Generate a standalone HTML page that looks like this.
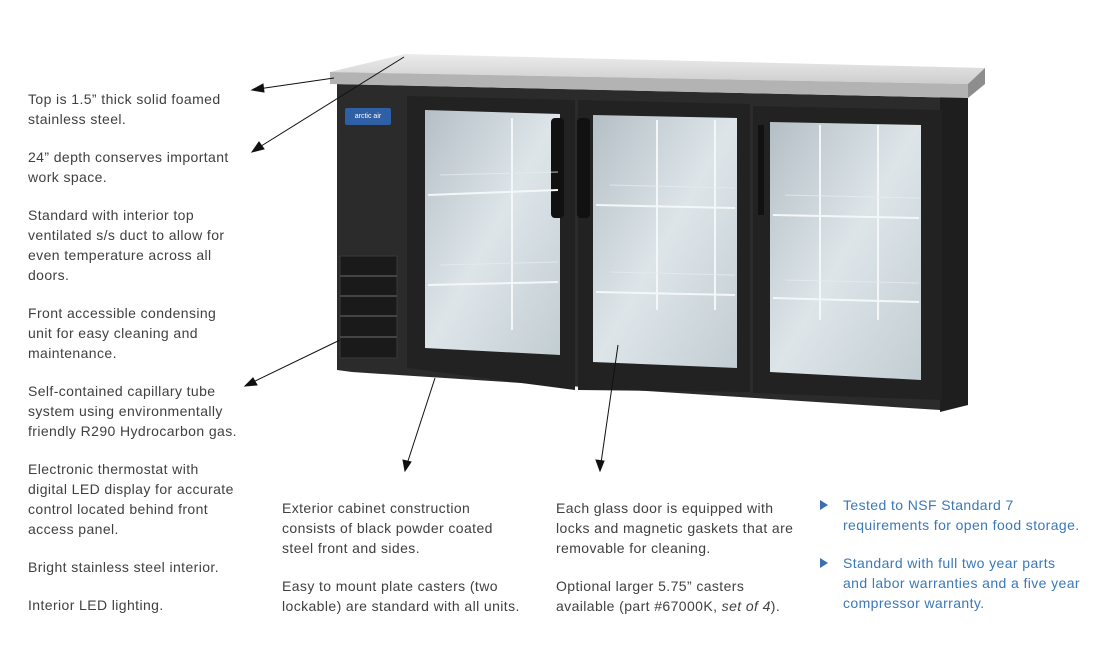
<!DOCTYPE html>
<html><head><meta charset="utf-8"><style>
body{margin:0;width:1117px;height:653px;background:#fff;position:relative;overflow:hidden;font-family:"Liberation Sans",sans-serif;}
.t{position:absolute;font-size:14px;line-height:20px;color:#404040;white-space:nowrap;letter-spacing:0.4px;}
.b{color:#3b78b8;}
.tri{position:absolute;width:0;height:0;border-top:5px solid transparent;border-bottom:5px solid transparent;border-left:8px solid #3b6fb0;}
svg{position:absolute;left:0;top:0;}
</style></head><body>
<svg width="1117" height="653" viewBox="0 0 1117 653">
<defs>
<linearGradient id="top" x1="0" y1="0" x2="0" y2="1"><stop offset="0" stop-color="#ececec"/><stop offset="1" stop-color="#cdcdcd"/></linearGradient>
<linearGradient id="gl" x1="0" y1="0" x2="1" y2="1"><stop offset="0" stop-color="#b4bfc5"/><stop offset="0.5" stop-color="#dde5e9"/><stop offset="1" stop-color="#c2cdd2"/></linearGradient>
</defs>
<polygon points="337,84 968,98 968,405 940,410 352,372 337,370" fill="#2b2b2b"/>
<polygon points="940,96 968,98 968,405 940,412" fill="#1e1e1e"/>
<polygon points="330,72 405,54 985,68 968,84" fill="url(#top)"/>
<polygon points="330,72 968,84 968,98 330,84" fill="#b3b3b3"/>
<polygon points="968,84 985,68 985,84 968,98" fill="#8d8d8d"/>
<rect x="345" y="108" width="46" height="17" rx="2" fill="#2f5fa5"/>
<text x="368" y="118" font-size="7" fill="#fff" text-anchor="middle" font-family="Liberation Sans">arctic air</text>
<g fill="#1a1a1a" stroke="#3a3a3a"><rect x="340" y="256" width="57" height="102"/></g>
<g stroke="#444" stroke-width="2"><line x1="340" y1="276" x2="397" y2="276"/><line x1="340" y1="296" x2="397" y2="296"/><line x1="340" y1="316" x2="397" y2="316"/><line x1="340" y1="337" x2="397" y2="337"/></g>
<polygon points="407,96 575,100 575,390 407,368" fill="#222"/>
<polygon points="425,110 560,114 560,355 425,348" fill="url(#gl)"/>
<polygon points="578,100 750,104 750,392 578,390" fill="#222"/>
<polygon points="593,115 737,118 737,368 593,362" fill="url(#gl)"/>
<polygon points="753,106 942,110 942,400 753,393" fill="#222"/>
<polygon points="770,122 921,125 921,380 770,372" fill="url(#gl)"/>
<rect x="551" y="118" width="13" height="100" rx="4" fill="#111"/>
<rect x="577" y="118" width="13" height="100" rx="4" fill="#111"/>
<rect x="758" y="125" width="6" height="90" fill="#111"/>
<g stroke="#f4f7f8" stroke-width="2">
<line x1="428" y1="195" x2="558" y2="190"/><line x1="428" y1="285" x2="558" y2="282"/>
<line x1="596" y1="205" x2="735" y2="208"/><line x1="596" y1="292" x2="735" y2="295"/>
<line x1="773" y1="215" x2="919" y2="218"/><line x1="773" y1="298" x2="919" y2="302"/>
<line x1="512" y1="118" x2="512" y2="330"/><line x1="657" y1="120" x2="657" y2="310"/><line x1="715" y1="120" x2="715" y2="310"/><line x1="820" y1="125" x2="820" y2="320"/><line x1="878" y1="125" x2="878" y2="320"/>
</g>
<g stroke="#e6ecef" stroke-width="1" opacity="0.8">
<line x1="440" y1="175" x2="558" y2="172"/><line x1="440" y1="265" x2="558" y2="262"/>
<line x1="610" y1="185" x2="735" y2="188"/><line x1="610" y1="272" x2="735" y2="275"/>
<line x1="785" y1="195" x2="919" y2="198"/><line x1="785" y1="280" x2="919" y2="283"/>
</g>
<g stroke="#111" stroke-width="1" fill="#111">
<line x1="334" y1="78" x2="258" y2="89"/><polygon points="252,90 263,84 264,92"/>
<line x1="404" y1="57" x2="258" y2="148"/><polygon points="252,152 259,142 264,149"/>
<line x1="340" y1="340" x2="251" y2="383"/><polygon points="245,386 253,378 257,385"/>
<line x1="435" y1="378" x2="407" y2="464"/><polygon points="405,471 403,460 411,462"/>
<line x1="618" y1="345" x2="601" y2="463"/><polygon points="600,471 596,460 604,461"/>
</g>
</svg>
<div class="t" style="left:28px;top:89px">Top is 1.5” thick solid foamed<br>stainless steel.</div>
<div class="t" style="left:28px;top:147px">24” depth conserves important<br>work space.</div>
<div class="t" style="left:28px;top:205px">Standard with interior top<br>ventilated s/s duct to allow for<br>even temperature across all<br>doors.</div>
<div class="t" style="left:28px;top:303px">Front accessible condensing<br>unit for easy cleaning and<br>maintenance.</div>
<div class="t" style="left:28px;top:381px">Self-contained capillary tube<br>system using environmentally<br>friendly R290 Hydrocarbon gas.</div>
<div class="t" style="left:28px;top:459px">Electronic thermostat with<br>digital LED display for accurate<br>control located behind front<br>access panel.</div>
<div class="t" style="left:28px;top:557px">Bright stainless steel interior.</div>
<div class="t" style="left:28px;top:595px">Interior LED lighting.</div>
<div class="t" style="left:282px;top:498px">Exterior cabinet construction<br>consists of black powder coated<br>steel front and sides.</div>
<div class="t" style="left:282px;top:576px">Easy to mount plate casters (two<br>lockable) are standard with all units.</div>
<div class="t" style="left:556px;top:498px">Each glass door is equipped with<br>locks and magnetic gaskets that are<br>removable for cleaning.</div>
<div class="t" style="left:556px;top:576px">Optional larger 5.75” casters<br>available (part #67000K, <i>set of 4</i>).</div>
<div class="tri" style="left:820px;top:500px"></div>
<div class="t b" style="left:843px;top:495px">Tested to NSF Standard 7<br>requirements for open food storage.</div>
<div class="tri" style="left:820px;top:558px"></div>
<div class="t b" style="left:843px;top:553px">Standard with full two year parts<br>and labor warranties and a five year<br>compressor warranty.</div>
</body></html>
